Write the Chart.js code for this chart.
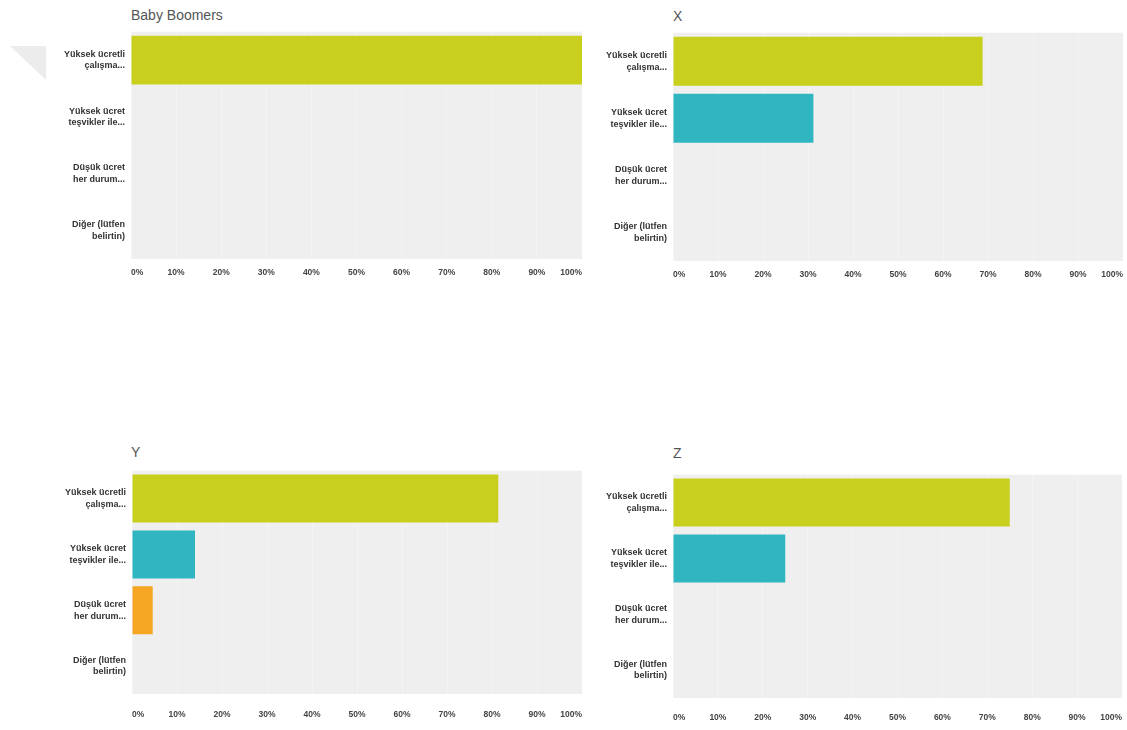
<!DOCTYPE html>
<html>
<head>
<meta charset="utf-8">
<script src="https://cdn.jsdelivr.net/npm/chart.js@4.4.1/dist/chart.umd.min.js"></script>
<style>
  html, body { margin: 0; padding: 0; background: #ffffff; }
  body { width: 1127px; height: 730px; position: relative; overflow: hidden; font-family: "Liberation Sans", Arial, sans-serif; }
  .title { position: absolute; font-size: 14px; color: #555555; line-height: 16px; }
  canvas { position: absolute; }
  .tri { position: absolute; left: 10px; top: 46px; width: 36px; height: 34px; background: #ececec; clip-path: polygon(0 0, 100% 0, 100% 100%); }
</style>
</head>
<body>
<div class="tri"></div>
<div class="title" style="left:131px; top:7px;">Baby Boomers</div>
<div class="title" style="left:673px; top:8px;">X</div>
<div class="title" style="left:131px; top:444px;">Y</div>
<div class="title" style="left:673px; top:445px;">Z</div>
<canvas id="c1"></canvas>
<canvas id="c2"></canvas>
<canvas id="c3"></canvas>
<canvas id="c4"></canvas>
<script>
// ---- data ----
const categories = [
  ["Yüksek ücretli", "çalışma..."],
  ["Yüksek ücret", "teşvikler ile..."],
  ["Düşük ücret", "her durum..."],
  ["Diğer (lütfen", "belirtin)"]
];
const barColors = ["#c8cf1c", "#2fb6c1", "#f5a623", "#8e7cc3"];
const tickValues = [0, 10, 20, 30, 40, 50, 60, 70, 80, 90, 100];
const panelTitles = ["Baby Boomers", "X", "Y", "Z"];
const babyBoomers = [100, 0, 0, 0];
const genX = [68.8, 31.2, 0, 0];
const genY = [81.4, 14.0, 4.6, 0];
const genZ = [75, 25, 0, 0];

function makeChart(id, values, rect, tickGap) {
  const yW = 90, padTop = 16, padRight = 14, xH = tickGap + 12;
  const cv = document.getElementById(id);
  const w = (rect.R - rect.L) + yW + padRight;
  const h = (rect.B - rect.T) + xH + padTop;
  cv.style.left = (rect.L - yW) + "px";
  cv.style.top = (rect.T - padTop) + "px";
  cv.style.width = w + "px";
  cv.style.height = h + "px";
  cv.width = w; cv.height = h;

  const bgPlugin = {
    id: "plotBg",
    beforeDraw(chart) {
      const a = chart.chartArea, ctx = chart.ctx;
      ctx.save();
      ctx.fillStyle = "#efefef";
      ctx.fillRect(a.left, a.top, a.right - a.left, a.bottom - a.top);
      ctx.restore();
    }
  };

  return new Chart(cv, {
    type: "bar",
    data: {
      labels: categories,
      datasets: [{
        data: values,
        backgroundColor: barColors,
        borderWidth: 0,
        categoryPercentage: 1.0,
        barPercentage: 0.86
      }]
    },
    options: {
      indexAxis: "y",
      responsive: false,
      animation: false,
      devicePixelRatio: 1,
      layout: { padding: { top: padTop, right: padRight, left: 0, bottom: 0 } },
      plugins: { legend: { display: false }, tooltip: { enabled: false }, title: { display: false } },
      scales: {
        x: {
          min: 0, max: 100,
          afterBuildTicks(axis) { axis.ticks = tickValues.map(v => ({ value: v })); },
          afterFit(axis) { axis.height = xH; },
          grid: { color: "rgba(255,255,255,0.3)", drawTicks: false, lineWidth: 1 },
          border: { display: false },
          ticks: {
            align: "inner",
            maxRotation: 0,
            autoSkip: false,
            padding: tickGap - 4,
            color: "#444444",
            font: { family: "Liberation Sans", size: 8.5, weight: "bold" },
            callback: v => v + "%"
          }
        },
        y: {
          afterFit(axis) { axis.width = yW; },
          grid: { display: false, drawTicks: false },
          border: { display: false },
          ticks: {
            padding: 6,
            color: "#333333",
            font: { family: "Liberation Sans", size: 9, weight: "bold", lineHeight: 1.3 }
          }
        }
      }
    },
    plugins: [bgPlugin]
  });
}

makeChart("c1", babyBoomers, { L: 131, R: 582, T: 30, B: 259 }, 13);
makeChart("c2", genX, { L: 673, R: 1123, T: 31, B: 261 }, 13);
makeChart("c3", genY, { L: 132, R: 584, T: 469, B: 694 }, 20);
makeChart("c4", genZ, { L: 673, R: 1123, T: 473, B: 698 }, 19);
</script>
</body>
</html>
